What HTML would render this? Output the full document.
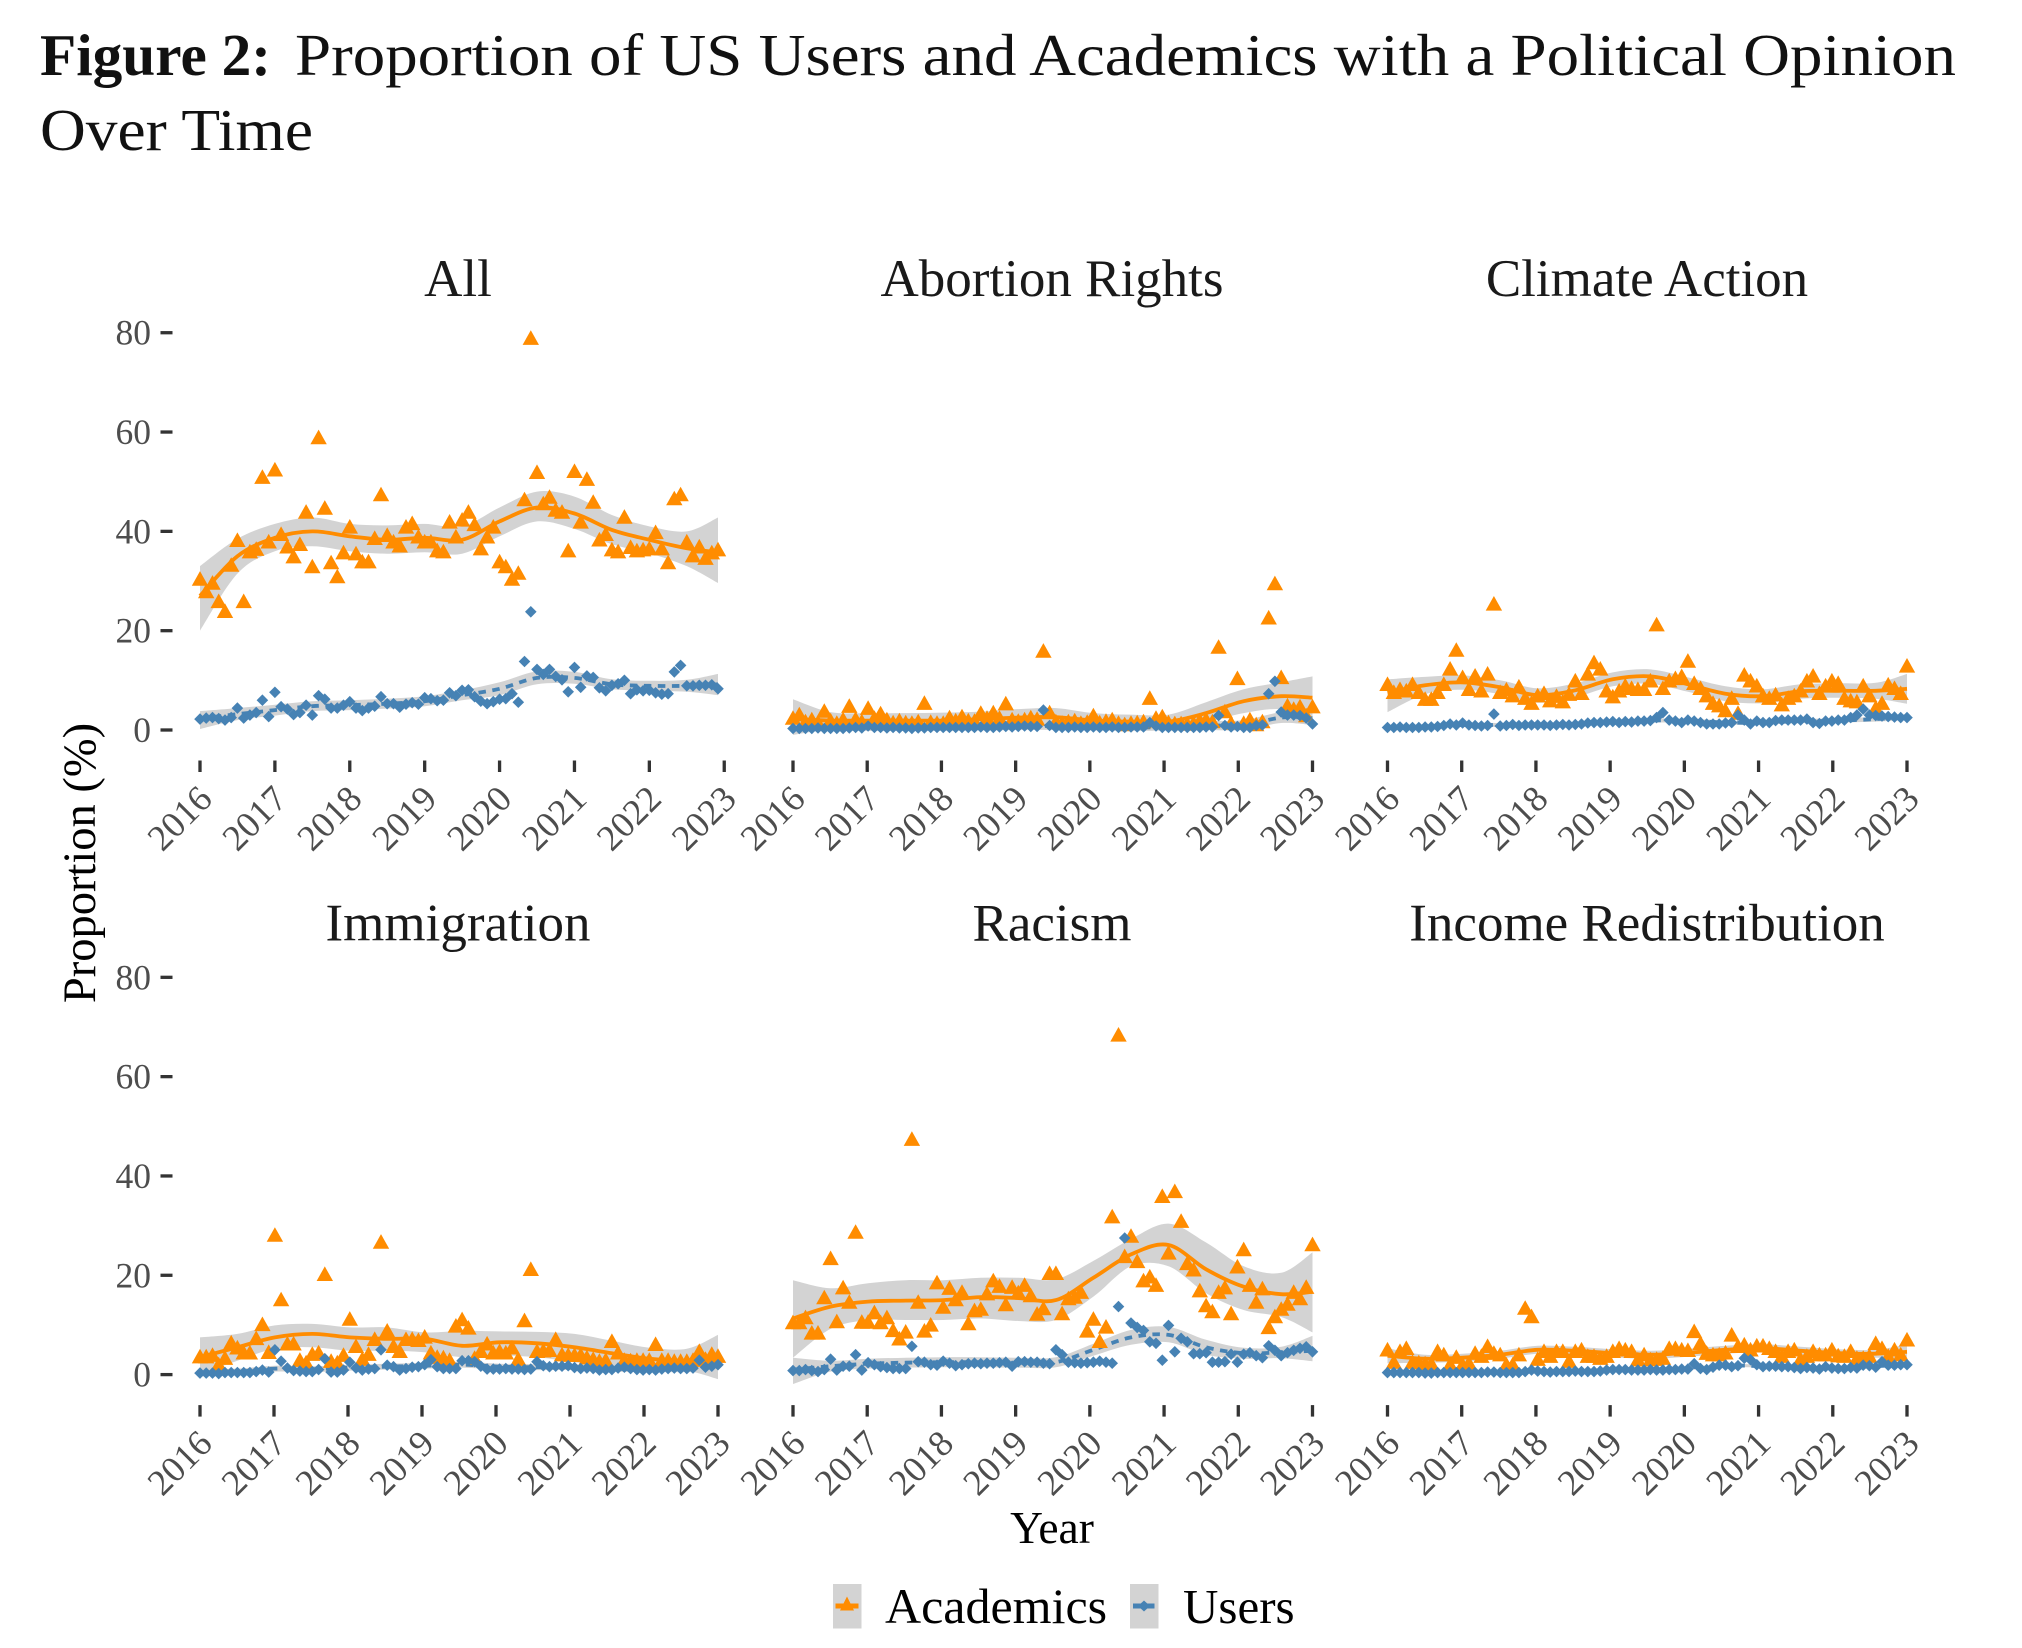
<!DOCTYPE html>
<html lang="en">
<head>
<meta charset="utf-8">
<title>Figure 2</title>
<style>
html,body{margin:0;padding:0;background:#fff;width:2022px;height:1648px;overflow:hidden}
svg{display:block;font-family:"Liberation Serif",serif}
</style>
</head>
<body>
<svg id="chart" width="2022" height="1648" viewBox="0 0 2022 1648" xmlns="http://www.w3.org/2000/svg">
  <rect x="0" y="0" width="2022" height="1648" fill="#fff"/>
  <text x="40" y="75" font-size="59" font-weight="bold" fill="#111" textLength="231" lengthAdjust="spacingAndGlyphs">Figure 2:</text>
  <text x="295" y="75" font-size="59" fill="#111" textLength="1661" lengthAdjust="spacingAndGlyphs">Proportion of US Users and Academics with a Political Opinion</text>
  <text x="40" y="150" font-size="59" fill="#111" textLength="273" lengthAdjust="spacingAndGlyphs">Over Time</text>
  <text transform="translate(95,863) rotate(-90)" text-anchor="middle" font-size="46.5" fill="#000">Proportion (%)</text>
  <text x="1052" y="1543" text-anchor="middle" font-size="45.5" fill="#000">Year</text>
  <g>
    <g>
      <rect x="833" y="1584" width="28.5" height="44.5" fill="#d3d3d3"/>
      <line x1="835.5" x2="858.5" y1="1606" y2="1606" stroke="#ff8c00" stroke-width="5"/>
      <polygon points="847,1596.5 854,1610.5 840,1610.5" fill="#ff8c00"/>
      <text x="885" y="1623" font-size="50" fill="#000">Academics</text>
    </g>
    <g>
      <rect x="1130" y="1584" width="28.5" height="44.5" fill="#d3d3d3"/>
      <line x1="1133" x2="1154.5" y1="1606" y2="1606" stroke="#4682b4" stroke-width="5"/>
      <polygon points="1144,1600.5 1150,1606 1144,1611.5 1138,1606" fill="#4682b4"/>
      <text x="1183" y="1623" font-size="49" fill="#000">Users</text>
    </g>
  </g>
</svg>
<script>
const yearLabels = [2016, 2017, 2018, 2019, 2020, 2021, 2022, 2023];
const yTickValues = [0, 20, 40, 60, 80];
const smoothKnots = [0, 6, 12, 18, 24, 30, 36, 42, 48, 54, 60, 66, 72, 78, 83];

const allAcademics = [30.5,28,29.7,26,24,33.3,38.3,26,36,36.5,51,38,
52.5,39.5,37,35,37.5,44,33,59,44.8,33.8,31,35.8,
41,35.6,34,34,38.7,47.5,39.3,38,37.2,41,41.7,39,
38,38,36.2,36,42,39,42.4,44,41.5,36.6,39,41,
34,33,30.5,31.7,46.5,79,52,45.7,47,44.4,44,36.2,
52.2,42,50.6,46,38.4,39.5,36.4,36,43,36.9,36.2,36.4,
36.6,39.9,36.6,33.8,46.7,47.5,38,35.2,37,34.7,35.8,36.4];
const allUsers = [2.2,2.4,2.5,2.3,2,2.5,4.4,2.4,3,3.5,6,2.7,
7.6,4.7,4.2,3.1,3.5,5,3,6.9,6.2,4.4,4.4,5,
5.7,4.4,3.9,4.4,4.8,6.7,5.3,5.3,4.6,5.2,5.5,5.2,
6.5,6.3,5.9,6,7.5,6.9,8,8.1,6.7,5.8,5.3,5.7,
6.2,6.3,7.3,5.6,13.8,23.8,12.2,11.2,12.2,10.8,10.1,7.7,
12.6,8.6,10.9,10.6,8.5,7.9,9,9.3,10,7.3,8.1,7.9,
8,7.5,7.2,7.3,11.7,13,8.9,8.9,9,9,9.1,8.3];
const allAcademicsSmooth = [27,35,38.7,40,39,38.3,38.7,38.3,42,44.8,43.6,40.3,38.3,36.6,35.8];
const allAcademicsUpper = [33,38.5,41.5,42.8,41.5,41.2,41.5,41,44.8,48,47,43.3,41,40,42.8];
const allAcademicsLower = [20,31.5,36,37,36,35.5,35.8,35.5,39,42,40.5,37.4,35.6,33,29.6];
const allUsersSmooth = [2.3,3.2,4,4.8,5,5.3,5.8,7,8.3,10.5,10.5,9.2,8.9,8.9,9.2];
const allUsersUpper = [3.8,4.4,5.1,5.8,6,6.3,6.8,8,9.6,11.8,11.7,10.2,9.9,10.1,11.3];
const allUsersLower = [0.2,2,2.9,3.8,4,4.3,4.8,6,7,9.2,9.3,8.2,7.9,7.7,7];

const abortionAcademics = [2.5,3.2,1.8,2.2,1.6,3.9,2,1.5,2.2,4.9,2.3,1.8,
4.5,2.5,3.4,2.2,1.6,2,1.6,1.5,1.8,5.5,1.7,1.5,
1.5,2.6,2,2.8,2,1.9,3.5,2.5,3.6,2.5,5.4,2.2,
1.9,2.2,2.6,2.3,16,3.6,1.8,1.5,1.8,2,1.5,1.7,
3,1.6,1.9,2.2,1.5,1.2,1.5,1.6,1.8,6.5,2.5,2.8,
1.6,1.4,1.4,1.3,1.5,2,2.2,1.8,16.8,3.8,1.5,10.5,
1.5,2.2,1.2,1.8,22.7,29.6,10.7,5,4.3,4.8,3,4.8];
const abortionUsers = [.3,.3,.3,.3,.4,.3,.3,.3,.3,.4,.5,.4,
.8,.5,.5,.4,.5,.4,.4,.3,.4,.4,.5,.5,
.5,.5,.5,.5,.5,.5,.6,.5,.5,.6,.7,.6,
.7,.8,.7,.7,4,.9,.5,.5,.5,.6,.5,.5,
.6,.5,.5,.6,.5,.5,.6,.6,.6,1.5,.8,.5,
.5,.5,.5,.5,.5,.5,.6,.6,2.9,.9,.6,.7,
.5,.5,.9,1,7.3,9.8,3.6,3,3,2.9,2.4,1.2];
const abortionAcademicsSmooth = [2.2,1.9,1.9,1.9,1.9,2.2,2.5,2.6,1.9,1.7,1.7,3.4,5.8,6.8,6.5];
const abortionAcademicsUpper = [6.2,3.6,3.4,3.4,3.5,3.7,4.2,4.4,3.4,3.1,3.1,5.6,8.2,9.6,10.8];
const abortionAcademicsLower = [-1,.2,.4,.4,.4,.7,.8,.8,.4,.3,.3,1.6,3.4,4.2,2.4];
const abortionUsersSmooth = [.4,.4,.5,.5,.5,.6,.8,.8,.6,.5,.6,.9,1,2.5,2.4];
const abortionUsersUpper = [1.2,1.1,1.2,1.2,1.2,1.3,1.6,1.6,1.3,1.2,1.3,1.8,2,3.6,3.8];
const abortionUsersLower = [-.5,-.2,-.2,-.2,-.2,-.1,0,0,-.1,-.2,-.1,0,0,1.4,1];

const climateAcademics = [9.3,7.7,8.3,8,9.3,7.7,6.3,6.3,7.7,9.3,12.4,16.2,
10.7,8.3,11,8,11.4,25.5,7.7,8.2,7,8.8,6.5,5.5,
7,7.5,6,6.9,5.8,7.3,10,7.5,11.4,13.7,12.4,8,
6.8,8,9,8.5,8.3,8.3,10,21.3,8.5,10,10.5,10.9,
14,9.5,8.5,7,5.5,5,4,6.5,3.5,11.2,10,9,
7,6.5,7.2,5.2,6.5,7,8,10,11,7.5,9,10,
9.5,6.5,6,5.8,9,7,4.5,5.5,9.2,8.5,7.5,13];
const climateUsers = [.5,.5,.6,.5,.5,.5,.6,.6,.7,.9,1.2,1,
1.4,1,.9,.8,.9,3.2,.8,.9,1.1,.9,1,1,
1,1,.9,1,1.1,1,1.1,1.2,1.4,1.5,1.5,1.6,
1.7,1.5,1.7,1.6,1.8,1.8,1.9,2.5,3.5,2,1.8,1.5,
2,1.8,1.5,1.2,1.2,1.2,1.4,1.5,3,2,1.2,1.8,
1.5,1.5,1.9,2,2,2,2,2.2,1.5,1.3,1.8,1.8,
2,2,2.5,3,4.2,3,2.9,2.8,2.7,2.6,2.5,2.5];
const climateAcademicsSmooth = [7.5,9,9.6,8.6,7,8,10.2,10.8,9.2,7.3,6.8,7.8,7.9,7.9,8.3];
const climateAcademicsUpper = [10.2,10.7,11,10,8.4,9.4,11.6,12.2,10.6,8.8,8.2,9.2,9.4,9.5,11.3];
const climateAcademicsLower = [3.6,7.2,8.1,7.2,5.5,6.6,8.8,9.3,7.7,5.8,5.4,6.3,6.5,6.3,5.3];
const climateUsersSmooth = [.5,.7,1,1,1,1.2,1.6,1.9,1.9,1.5,1.5,1.8,1.9,2.2,2.6];
const climateUsersUpper = [1,1.1,1.4,1.4,1.4,1.6,2,2.3,2.3,1.9,1.9,2.2,2.3,2.7,3.2];
const climateUsersLower = [0,.3,.6,.6,.6,.8,1.2,1.5,1.5,1.1,1.1,1.4,1.5,1.7,2];

const immigrationAcademics = [3.7,3.7,4,2.1,3.4,6.5,5.5,4.5,4.5,7.4,10.2,4.6,
28.2,15.2,6.3,6.3,3,2.5,4.2,4.5,20.3,2.8,2.5,4,
11.3,5.8,3.2,4.2,7.2,26.8,8.9,5.8,4.8,7.2,7.2,7,
7.7,4.5,3.6,3.5,3,9.9,11.2,9.5,3.4,4.8,6.3,4.5,
4.8,4.5,5.5,3.2,11,21.3,4.8,4.9,5,7.2,4.1,4,
4,4,3.5,3.2,2.8,3,6.8,4.5,3,2.9,3,3,
3,6.2,3,3,2.8,2.8,2.8,3,4.8,3.2,4.2,3.8];
const immigrationUsers = [.3,.3,.3,.2,.4,.4,.4,.4,.4,.6,.9,.5,
5,2.7,1.3,.8,.7,.6,.6,1,3.2,.5,.5,.9,
2.5,1.3,.9,1.1,1.2,5,1.9,1.6,.9,1.2,1.5,1.6,
2,3,1.6,1.2,1.2,1.2,2.8,2.8,2.6,1.7,1.1,1.1,
1.1,1.2,1.1,1.1,1,1.1,2.6,1.8,1.6,1.7,1.7,1.8,
1.4,1.2,1.3,1.2,.9,1,1,1.3,1.5,1.2,1,.9,
1,.9,1.1,1.2,1.3,1.2,1.2,1.3,2.9,1.5,1.7,2];
const immigrationAcademicsSmooth = [3.5,5.5,7.5,8.2,7.5,7.2,7.2,5.8,6.5,6.3,5.5,4.3,3.2,2.8,3.8];
const immigrationAcademicsUpper = [7.5,8.2,9.9,10.2,9.5,9.5,8.5,8.8,8.7,8.6,8.2,6.8,5.4,5.2,8];
const immigrationAcademicsLower = [.1,2.8,5.2,5.5,4.8,4.8,4.5,3.5,3.8,3.5,2.5,1.5,1.1,.8,-.9];
const immigrationUsersSmooth = [.4,.6,1.2,1.1,1.4,1.6,1.8,2,1.6,1.5,1.5,1.2,1.1,1.2,1.8];
const immigrationUsersUpper = [1.2,1.2,1.8,1.7,2,2.2,2.4,2.6,2.2,2.1,2.1,1.8,1.7,1.9,3.2];
const immigrationUsersLower = [-.4,0,.6,.5,.8,1,1.2,1.4,1,.9,.9,.6,.5,.5,.4];

const racismAcademics = [10.6,10.6,11.6,8.5,8.5,15.6,23.5,10.8,17.6,14.7,28.8,10.7,
10.7,12.6,10.6,11.6,9,7.3,8.7,47.5,14.7,8.9,10.1,18.6,
13.7,17.5,15.2,16.7,10.4,13,13.3,16.4,19,17.9,14.2,17.7,
16.6,18.1,16,12.3,13.4,20.5,20.5,12.4,15.4,15.7,16.7,8.9,
11.3,6.8,9.7,31.9,68.5,23.9,28,22.9,19,19.8,18.1,36,
24.6,37,31,22.5,21.2,17,14,12.8,16.7,17.6,12.4,21.8,
25.3,18.1,14.7,17.4,9.6,11.8,13.3,14.3,16.7,15.4,17.7,26.3];
const racismUsers = [.8,.8,1,.8,.6,1,3.1,.9,1.7,1.7,4,.9,
2.4,2,1.6,1.4,1.2,1.2,1.2,5.7,2.6,2.5,2,1.9,
2.7,2.3,1.8,2,2.2,2.3,2.2,2.3,2.3,2.4,2.5,1.7,
2.6,2.6,2.5,2.5,2.3,2.2,5,4,2.5,2.4,2.3,2.4,
2.5,2.7,2.5,2.3,13.7,27.5,10.4,9.5,8.9,6.6,6.3,2.9,
9.9,4.6,7.3,6.6,4.2,4.2,4.4,2.5,2.5,2.6,4.1,2.5,
4.1,4.4,3.8,3.4,5.8,4.9,3.8,4.4,4.9,5.3,5.6,4.6];
const racismAcademicsSmooth = [11.3,13.7,14.7,14.9,15,15.6,15.4,15,19.5,24.2,26.1,21.2,17.7,16.2,16.7];
const racismAcademicsUpper = [19,17.4,18.4,19,19,19.5,19.5,19.2,22.9,27.3,30.4,26.6,21.8,20.5,24.6];
const racismAcademicsLower = [3.4,9.2,11,11,11,11.3,10.8,11,15.7,21.8,21.8,16.4,13,11.6,8.5];
const racismUsersSmooth = [1,1.7,2.2,2.4,2.5,2.5,2.4,2.5,5,7.5,8,5.5,4.3,4.5,4.8];
const racismUsersUpper = [3.4,2.8,3.2,3.4,3.5,3.5,3.4,3.5,6.2,9,9.6,7,5.4,5.6,7.8];
const racismUsersLower = [-1.9,.6,1.2,1.4,1.5,1.5,1.4,1.5,3.8,6,6.5,4,3.2,3.3,2.7];

const incomeAcademics = [5.1,2.6,4.8,5.4,2.6,2.5,2.3,2.3,4.8,4.1,2.1,3.6,
2.1,2.4,4.4,3.8,5.8,4.4,4.1,2.1,2.1,4.1,13.5,11.8,
3.2,4.8,3.8,4.8,4.8,2.8,4.8,5.1,3.8,3.8,3.4,3.8,
4.8,5.4,5.1,4.8,3.1,4.1,3.1,3.2,3.4,5.4,5.4,5.1,
5,8.8,6.4,4.4,4.1,4.1,4.5,8.1,5.8,6.1,5.1,5.9,
5.9,5.4,4.8,3.8,4.8,5.1,3.2,3.8,4.8,4.1,4.1,5.1,
3.9,3.8,4.8,3.4,3.4,3.8,6.4,5.4,3.8,5.1,4.1,7.1];
const incomeUsers = [.4,.4,.4,.4,.4,.4,.3,.3,.4,.4,.4,.4,
.4,.4,.4,.4,.5,.5,.4,.4,.4,.4,.6,.9,
.7,.6,.5,.6,.6,.6,.7,.6,.6,.6,.7,.9,
1,1,1,.9,.9,.9,1,.9,.9,1,1,1.1,
1.1,2.2,1.2,1,1.5,1.9,1.9,1.6,1.8,3.3,3,2,
1.6,1.7,1.7,1.6,1.6,1.4,1.2,1.4,1.3,1.1,1.6,1.3,
1.2,1.2,1.4,1.3,1.9,1.8,1.5,2.6,1.9,1.9,2,2];
const incomeAcademicsSmooth = [3.8,3.2,3.4,4,5,4.8,4.3,4,4.4,5,5.3,4.8,4.3,4.2,4.6];
const incomeAcademicsUpper = [5.3,4,4.2,4.8,5.8,5.6,5.1,4.8,5.2,5.8,6.1,5.6,5.1,5,6.1];
const incomeAcademicsLower = [2.3,2.4,2.6,3.2,4.2,4,3.5,3.2,3.6,4.2,4.5,4,3.5,3.4,3.1];
const incomeUsersSmooth = [.4,.4,.4,.5,.6,.7,.9,.9,1.3,1.8,1.7,1.4,1.4,1.7,2];
const incomeUsersUpper = [.7,.7,.7,.8,.9,1,1.2,1.2,1.6,2.1,2,1.7,1.7,2,2.5];
const incomeUsersLower = [.1,.1,.1,.2,.3,.4,.6,.6,1,1.5,1.4,1.1,1.1,1.4,1.5];

const panelAll = {title:"All",slug:"all",titleX:458,left:200,right:718,zero:730,tickMonths:12,academics:allAcademics,users:allUsers,aSmooth:allAcademicsSmooth,aUpper:allAcademicsUpper,aLower:allAcademicsLower,uSmooth:allUsersSmooth,uUpper:allUsersUpper,uLower:allUsersLower,showY:true};
const panelAbortion = {title:"Abortion Rights",slug:"abortion-rights",titleX:1052,left:793,right:1312.5,zero:730,tickMonths:83/7,academics:abortionAcademics,users:abortionUsers,aSmooth:abortionAcademicsSmooth,aUpper:abortionAcademicsUpper,aLower:abortionAcademicsLower,uSmooth:abortionUsersSmooth,uUpper:abortionUsersUpper,uLower:abortionUsersLower,showY:false};
const panelClimate = {title:"Climate Action",slug:"climate-action",titleX:1647,left:1387.5,right:1907,zero:730,tickMonths:83/7,academics:climateAcademics,users:climateUsers,aSmooth:climateAcademicsSmooth,aUpper:climateAcademicsUpper,aLower:climateAcademicsLower,uSmooth:climateUsersSmooth,uUpper:climateUsersUpper,uLower:climateUsersLower,showY:false};
const panelImmigration = {title:"Immigration",slug:"immigration",titleX:458,left:200,right:718,zero:1374.6,tickMonths:83/7,academics:immigrationAcademics,users:immigrationUsers,aSmooth:immigrationAcademicsSmooth,aUpper:immigrationAcademicsUpper,aLower:immigrationAcademicsLower,uSmooth:immigrationUsersSmooth,uUpper:immigrationUsersUpper,uLower:immigrationUsersLower,showY:true};
const panelRacism = {title:"Racism",slug:"racism",titleX:1052,left:793,right:1312.5,zero:1374.6,tickMonths:83/7,academics:racismAcademics,users:racismUsers,aSmooth:racismAcademicsSmooth,aUpper:racismAcademicsUpper,aLower:racismAcademicsLower,uSmooth:racismUsersSmooth,uUpper:racismUsersUpper,uLower:racismUsersLower,showY:false};
const panelIncome = {title:"Income Redistribution",slug:"income-redistribution",titleX:1647,left:1387.5,right:1907,zero:1374.6,tickMonths:83/7,academics:incomeAcademics,users:incomeUsers,aSmooth:incomeAcademicsSmooth,aUpper:incomeAcademicsUpper,aLower:incomeAcademicsLower,uSmooth:incomeUsersSmooth,uUpper:incomeUsersUpper,uLower:incomeUsersLower,showY:false};
const panels = [panelAll, panelAbortion, panelClimate, panelImmigration, panelRacism, panelIncome];

const NS = "http://www.w3.org/2000/svg";
const ORANGE = "#ff8c00", BLUE = "#4682b4", RIBBON = "#d3d3d3";
const PX_PER_UNIT = 4.966;
const svg = document.getElementById("chart");

function make(tag, attrs, parent) {
  const el = document.createElementNS(NS, tag);
  for (const k in attrs) el.setAttribute(k, attrs[k]);
  parent.appendChild(el);
  return el;
}
function splinePath(pts) {
  let d = "";
  for (let i = 0; i < pts.length - 1; i++) {
    const p0 = pts[Math.max(i - 1, 0)], p1 = pts[i], p2 = pts[i + 1], p3 = pts[Math.min(i + 2, pts.length - 1)];
    d += " C" + (p1[0] + (p2[0] - p0[0]) / 6).toFixed(1) + "," + (p1[1] + (p2[1] - p0[1]) / 6).toFixed(1) + " " +
         (p2[0] - (p3[0] - p1[0]) / 6).toFixed(1) + "," + (p2[1] - (p3[1] - p1[1]) / 6).toFixed(1) + " " +
         p2[0].toFixed(1) + "," + p2[1].toFixed(1);
  }
  return d;
}

panels.forEach(function (p) {
  const xScale = function (m) { return p.left + m * (p.right - p.left) / 83; };
  const yScale = function (v) { return p.zero - v * PX_PER_UNIT; };
  const g = make("g", {}, svg);
  
  

  const title = make("text", {x: p.titleX, y: p.zero - 434, "text-anchor": "middle", "font-size": 53, fill: "#1a1a1a"}, g);
  
  
  title.textContent = p.title;

  if (p.showY) {
    yTickValues.forEach(function (v) {
      const tick = make("line", {x1: 160.5, x2: 172.5, y1: yScale(v), y2: yScale(v), stroke: "#333", "stroke-width": 3.3}, g);
      
      
      const lab = make("text", {x: 151, y: yScale(v) + 12, "text-anchor": "end", "font-size": 35.5, fill: "#4d4d4d"}, g);
      
      
      lab.textContent = v;
    });
  }

  yearLabels.forEach(function (y, i) {
    const tx = xScale(i * p.tickMonths);
    const tick = make("line", {x1: tx, x2: tx, y1: p.zero + 30.5, y2: p.zero + 42, stroke: "#333", "stroke-width": 3.3}, g);
    
    
    const lab = make("text", {transform: "translate(" + (tx + 14).toFixed(1) + "," + (p.zero + 71) + ") rotate(-45)", "text-anchor": "end", "font-size": 36.5, fill: "#4d4d4d"}, g);
    
    
    lab.textContent = y;
  });

  function ribbon(upper, lower, name) {
    const up = smoothKnots.map(function (m, i) { return [xScale(m), yScale(upper[i])]; });
    const lo = smoothKnots.map(function (m, i) { return [xScale(m), yScale(lower[i])]; }).reverse();
    const d = "M" + up[0][0].toFixed(1) + "," + up[0][1].toFixed(1) + splinePath(up) +
              " L" + lo[0][0].toFixed(1) + "," + lo[0][1].toFixed(1) + splinePath(lo) + " Z";
    const r = make("path", {d: d, fill: RIBBON, stroke: "none"}, g);
    
    
  }
  function trend(values, color, dash, name) {
    const pts = smoothKnots.map(function (m, i) { return [xScale(m), yScale(values[i])]; });
    const l = make("path", {d: "M" + pts[0][0].toFixed(1) + "," + pts[0][1].toFixed(1) + splinePath(pts), fill: "none", stroke: color, "stroke-width": 3.8}, g);
    if (dash) l.setAttribute("stroke-dasharray", dash);
    
    
  }

  ribbon(p.aUpper, p.aLower, "academics-confidence-band");
  ribbon(p.uUpper, p.uLower, "users-confidence-band");
  trend(p.aSmooth, ORANGE, null, "academics-trend-line");
  trend(p.uSmooth, BLUE, "7.5 6.5", "users-trend-line");

  p.academics.forEach(function (v, i) {
    const cx = xScale(i), cy = yScale(v);
    const t = make("polygon", {points: cx.toFixed(1) + "," + (cy - 7.4).toFixed(1) + " " + (cx + 8.2).toFixed(1) + "," + (cy + 7.2).toFixed(1) + " " + (cx - 8.2).toFixed(1) + "," + (cy + 7.2).toFixed(1), fill: ORANGE}, g);
    
    
  });
  p.users.forEach(function (v, i) {
    const cx = xScale(i), cy = yScale(v);
    const t = make("polygon", {points: cx.toFixed(1) + "," + (cy - 5.8).toFixed(1) + " " + (cx + 5.8).toFixed(1) + "," + cy.toFixed(1) + " " + cx.toFixed(1) + "," + (cy + 5.8).toFixed(1) + " " + (cx - 5.8).toFixed(1) + "," + cy.toFixed(1), fill: BLUE}, g);
    
    
  });
});
</script>
</body>
</html>
